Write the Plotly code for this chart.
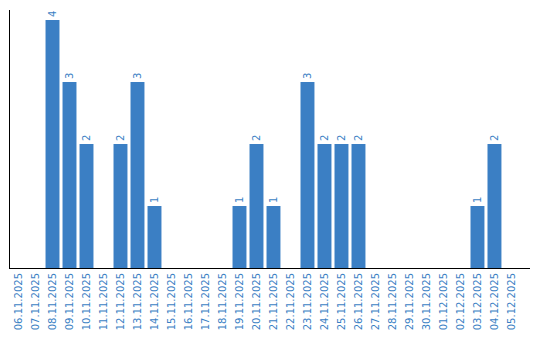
import plotly.graph_objects as go

dates = ["06.11.2025", "07.11.2025", "08.11.2025", "09.11.2025", "10.11.2025",
         "11.11.2025", "12.11.2025", "13.11.2025", "14.11.2025", "15.11.2025",
         "16.11.2025", "17.11.2025", "18.11.2025", "19.11.2025", "20.11.2025",
         "21.11.2025", "22.11.2025", "23.11.2025", "24.11.2025", "25.11.2025",
         "26.11.2025", "27.11.2025", "28.11.2025", "29.11.2025", "30.11.2025",
         "01.12.2025", "02.12.2025", "03.12.2025", "04.12.2025", "05.12.2025"]
values = [0, 0, 4, 3, 2, 0, 2, 3, 1, 0, 0, 0, 0, 1, 2, 1, 0, 3, 2, 2, 2,
          0, 0, 0, 0, 0, 0, 1, 2, 0]

labels = [str(v) if v > 0 else "" for v in values]
color = "#3b7fc4"

fig = go.Figure(go.Bar(
    x=dates, y=values, text=labels, textposition="outside", textangle=-90,
    textfont=dict(family="DejaVu Sans", size=10, color=color),
    marker=dict(color=color, line=dict(width=0)),
    cliponaxis=False, hoverinfo="skip",
))
fig.update_layout(
    width=540, height=340, margin=dict(l=10, r=10, t=10, b=70),
    paper_bgcolor="white", plot_bgcolor="white", bargap=0.18,
    showlegend=False, font=dict(family="DejaVu Sans", size=10, color=color),
    uniformtext=dict(minsize=10, mode="show"),
)
fig.update_xaxes(type="category", tickangle=-90, showline=True, linecolor="black",
                 linewidth=1, ticks="", showgrid=False, range=[-0.5, 30.09],
                 tickfont=dict(family="DejaVu Sans", size=10, color=color))
fig.update_yaxes(range=[0, 4.16], showline=True, linecolor="black", linewidth=1,
                 showticklabels=False, ticks="", showgrid=False, zeroline=False)
fig.write_html("out.html")
